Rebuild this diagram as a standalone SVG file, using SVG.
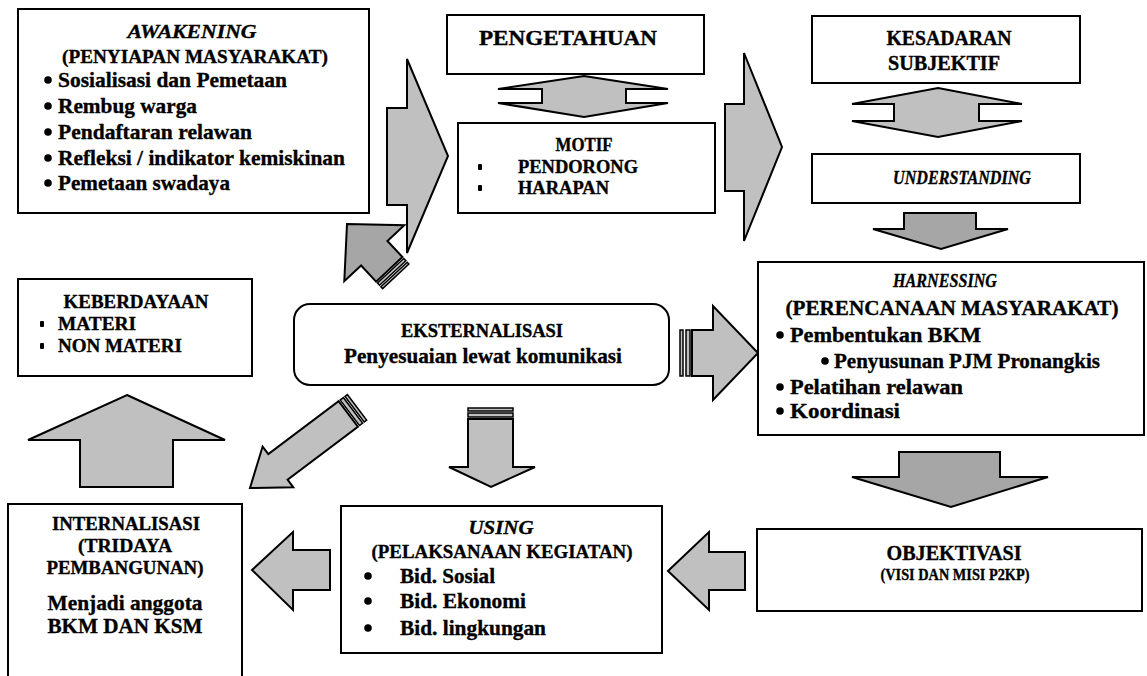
<svg xmlns="http://www.w3.org/2000/svg" width="1147" height="676" viewBox="0 0 1147 676">
<style>
.box{fill:#fff;stroke:#000;stroke-width:2}
.arr{fill:#c0c0c0;stroke:#000;stroke-width:2;stroke-linejoin:miter}
.dark{fill:#a6a6a6}
.bar{fill:#c0c0c0;stroke:#000;stroke-width:1.5}
text{font-family:"Liberation Serif","Times New Roman",serif;font-weight:bold;fill:#000;stroke:#000;stroke-width:0.35}
.c{text-anchor:middle}
.i{font-style:italic}
.s16{font-size:16px}.s17{font-size:17px}.s18{font-size:18px}.s19{font-size:19px}.s20{font-size:20px}.s22{font-size:22px}
.dot{fill:#000}
</style>
<rect width="1147" height="676" fill="#fff"/>
<g id="connectors">
  <polygon class="arr" points="387,108 407,108 407,59 448,156 407,253 407,205 387,205"/>
  <polygon class="arr" points="725,104 744,104 744,53 782,147 744,241 744,191 725,191"/>
  <polygon class="arr" points="584,76 668,89 626,89 626,103 668,103 584,117 498,103 542,103 542,89 498,89"/>
  <polygon class="arr" points="938,88 1022,104 979,104 979,121 1022,121 938,137 852,121 894,121 894,104 852,104"/>
  <polygon class="arr dark" points="904,213 976,213 976,229 1008,229 941,249 873,229 904,229"/>
  <polygon class="arr dark" points="899,452 1000,452 1000,477 1048,477 951,507 852,477 899,477"/>
  <polygon class="arr" points="668,571 709,532 709,552 745,552 745,590 709,590 709,610"/>
  <polygon class="arr" points="252,570 293,532 293,550 330,550 330,590 293,590 293,610"/>
  <polygon class="arr" points="127,395 225,440 173,440 173,487 80,487 80,440 28,440"/>
  <g id="a-ext-harn">
    <polygon class="arr" points="692,330 713,330 713,306 758,353 713,400 713,376 692,376"/>
    <rect class="bar" x="680" y="330" width="3" height="46"/>
    <rect class="bar" x="686" y="330" width="4" height="46"/>
  </g>
  <g id="a-ext-using">
    <polygon class="arr" points="468,419 513,419 513,467 535,467 491,487 449,467 468,467"/>
    <rect class="bar" x="468" y="408" width="45" height="3"/>
    <rect class="bar" x="468" y="413" width="45" height="4"/>
  </g>
  <g id="a-ext-intern" transform="translate(250,488) rotate(-37)">
    <polygon class="arr" points="0,0 35,-25.5 35,-16 123,-16 123,16 35,16 35,25.5"/>
    <rect class="bar" x="125" y="-16" width="4" height="32"/>
    <rect class="bar" x="131" y="-16" width="3" height="32"/>
  </g>
  <g id="a-ext-awak" transform="translate(347,224) rotate(47)">
    <polygon class="arr dark" points="0,0 40,-41 40,-18 62,-18 62,18 40,18 40,41"/>
    <rect class="bar dark" x="64" y="-18" width="3" height="36"/>
    <rect class="bar dark" x="69" y="-18" width="2.5" height="36"/>
  </g>
</g>
<g id="n-awakening">
  <rect class="box" x="18" y="9" width="351" height="204"/>
  <text class="c i s19" x="192" y="38" textLength="129" lengthAdjust="spacingAndGlyphs">AWAKENING</text>
  <text class="c s19" x="195" y="63" textLength="266" lengthAdjust="spacingAndGlyphs">(PENYIAPAN MASYARAKAT)</text>
  <circle class="dot" cx="48" cy="80" r="3.8"/>
  <circle class="dot" cx="48" cy="106" r="3.8"/>
  <circle class="dot" cx="48" cy="132" r="3.8"/>
  <circle class="dot" cx="48" cy="158" r="3.8"/>
  <circle class="dot" cx="48" cy="183" r="3.8"/>
  <text class="s22" x="58" y="87" textLength="229" lengthAdjust="spacingAndGlyphs">Sosialisasi dan Pemetaan</text>
  <text class="s22" x="58" y="113" textLength="139" lengthAdjust="spacingAndGlyphs">Rembug warga</text>
  <text class="s22" x="58" y="139" textLength="194" lengthAdjust="spacingAndGlyphs">Pendaftaran relawan</text>
  <text class="s22" x="58" y="165" textLength="287" lengthAdjust="spacingAndGlyphs">Refleksi / indikator kemiskinan</text>
  <text class="s22" x="58" y="190" textLength="172" lengthAdjust="spacingAndGlyphs">Pemetaan swadaya</text>
</g>
<g id="n-pengetahuan">
  <rect class="box" x="447" y="15" width="257" height="59"/>
  <text class="c s20" x="568" y="45" textLength="178" lengthAdjust="spacingAndGlyphs">PENGETAHUAN</text>
</g>
<g id="n-motif">
  <rect class="box" x="458" y="123" width="257" height="90"/>
  <text class="c s18" x="584" y="151" textLength="57" lengthAdjust="spacingAndGlyphs">MOTIF</text>
  <rect class="dot" x="478" y="164" width="4" height="6" rx="1"/>
  <rect class="dot" x="478" y="185" width="4" height="6" rx="1"/>
  <text class="s18" x="518" y="173" textLength="120" lengthAdjust="spacingAndGlyphs">PENDORONG</text>
  <text class="s18" x="518" y="194" textLength="91" lengthAdjust="spacingAndGlyphs">HARAPAN</text>
</g>
<g id="n-kesadaran">
  <rect class="box" x="812" y="16" width="268" height="67"/>
  <text class="c s20" x="949" y="45" textLength="125" lengthAdjust="spacingAndGlyphs">KESADARAN</text>
  <text class="c s20" x="944" y="70" textLength="112" lengthAdjust="spacingAndGlyphs">SUBJEKTIF</text>
</g>
<g id="n-understanding">
  <rect class="box" x="812" y="154" width="268" height="49"/>
  <text class="c i s19" x="962" y="184" textLength="138" lengthAdjust="spacingAndGlyphs">UNDERSTANDING</text>
</g>
<g id="n-harnessing">
  <rect class="box" x="758" y="262" width="386" height="173"/>
  <text class="c i s19" x="945" y="287" textLength="104" lengthAdjust="spacingAndGlyphs">HARNESSING</text>
  <text class="c s20" x="952" y="315" textLength="333" lengthAdjust="spacingAndGlyphs">(PERENCANAAN MASYARAKAT)</text>
  <circle class="dot" cx="780" cy="335" r="3.8"/>
  <circle class="dot" cx="825" cy="361" r="3.8"/>
  <circle class="dot" cx="780" cy="387" r="3.8"/>
  <circle class="dot" cx="780" cy="411" r="3.8"/>
  <text class="s22" x="790" y="342" textLength="191" lengthAdjust="spacingAndGlyphs">Pembentukan BKM</text>
  <text class="s22" x="834" y="368" textLength="266" lengthAdjust="spacingAndGlyphs">Penyusunan PJM Pronangkis</text>
  <text class="s22" x="790" y="394" textLength="173" lengthAdjust="spacingAndGlyphs">Pelatihan relawan</text>
  <text class="s22" x="790" y="418" textLength="110" lengthAdjust="spacingAndGlyphs">Koordinasi</text>
</g>
<g id="n-eksternalisasi">
  <rect class="box" x="294" y="304" width="375" height="81" rx="16"/>
  <text class="c s18" x="482" y="337" textLength="162" lengthAdjust="spacingAndGlyphs">EKSTERNALISASI</text>
  <text class="c s22" x="483" y="363" textLength="278" lengthAdjust="spacingAndGlyphs">Penyesuaian lewat komunikasi</text>
</g>
<g id="n-keberdayaan">
  <rect class="box" x="18" y="279" width="234" height="97"/>
  <text class="c s18" x="136" y="308" textLength="145" lengthAdjust="spacingAndGlyphs">KEBERDAYAAN</text>
  <rect class="dot" x="40" y="321" width="4" height="6" rx="1"/>
  <rect class="dot" x="40" y="343" width="4" height="6" rx="1"/>
  <text class="s18" x="58" y="330" textLength="78" lengthAdjust="spacingAndGlyphs">MATERI</text>
  <text class="s18" x="58" y="352" textLength="124" lengthAdjust="spacingAndGlyphs">NON MATERI</text>
</g>
<g id="n-internalisasi">
  <rect class="box" x="8" y="504" width="234" height="200"/>
  <text class="c s18" x="126" y="530" textLength="148" lengthAdjust="spacingAndGlyphs">INTERNALISASI</text>
  <text class="c s18" x="125" y="552" textLength="94" lengthAdjust="spacingAndGlyphs">(TRIDAYA</text>
  <text class="c s18" x="125" y="574" textLength="157" lengthAdjust="spacingAndGlyphs">PEMBANGUNAN)</text>
  <text class="c s22" x="125" y="610" textLength="155" lengthAdjust="spacingAndGlyphs">Menjadi anggota</text>
  <text class="c s22" x="125" y="633" textLength="155" lengthAdjust="spacingAndGlyphs">BKM DAN KSM</text>
</g>
<g id="n-using">
  <rect class="box" x="341" y="506" width="321" height="147"/>
  <text class="c i s19" x="501" y="534" textLength="65" lengthAdjust="spacingAndGlyphs">USING</text>
  <text class="c s19" x="502" y="558" textLength="261" lengthAdjust="spacingAndGlyphs">(PELAKSANAAN KEGIATAN)</text>
  <circle class="dot" cx="368" cy="576" r="3.8"/>
  <circle class="dot" cx="368" cy="601" r="3.8"/>
  <circle class="dot" cx="368" cy="628" r="3.8"/>
  <text class="s22" x="400" y="583" textLength="95" lengthAdjust="spacingAndGlyphs">Bid. Sosial</text>
  <text class="s22" x="400" y="608" textLength="126" lengthAdjust="spacingAndGlyphs">Bid. Ekonomi</text>
  <text class="s22" x="400" y="635" textLength="146" lengthAdjust="spacingAndGlyphs">Bid. lingkungan</text>
</g>
<g id="n-objektivasi">
  <rect class="box" x="757" y="529" width="385" height="82"/>
  <text class="c s20" x="954" y="560" textLength="135" lengthAdjust="spacingAndGlyphs">OBJEKTIVASI</text>
  <text class="c s16" x="955" y="580" textLength="149" lengthAdjust="spacingAndGlyphs">(VISI DAN MISI P2KP)</text>
</g>
</svg>
